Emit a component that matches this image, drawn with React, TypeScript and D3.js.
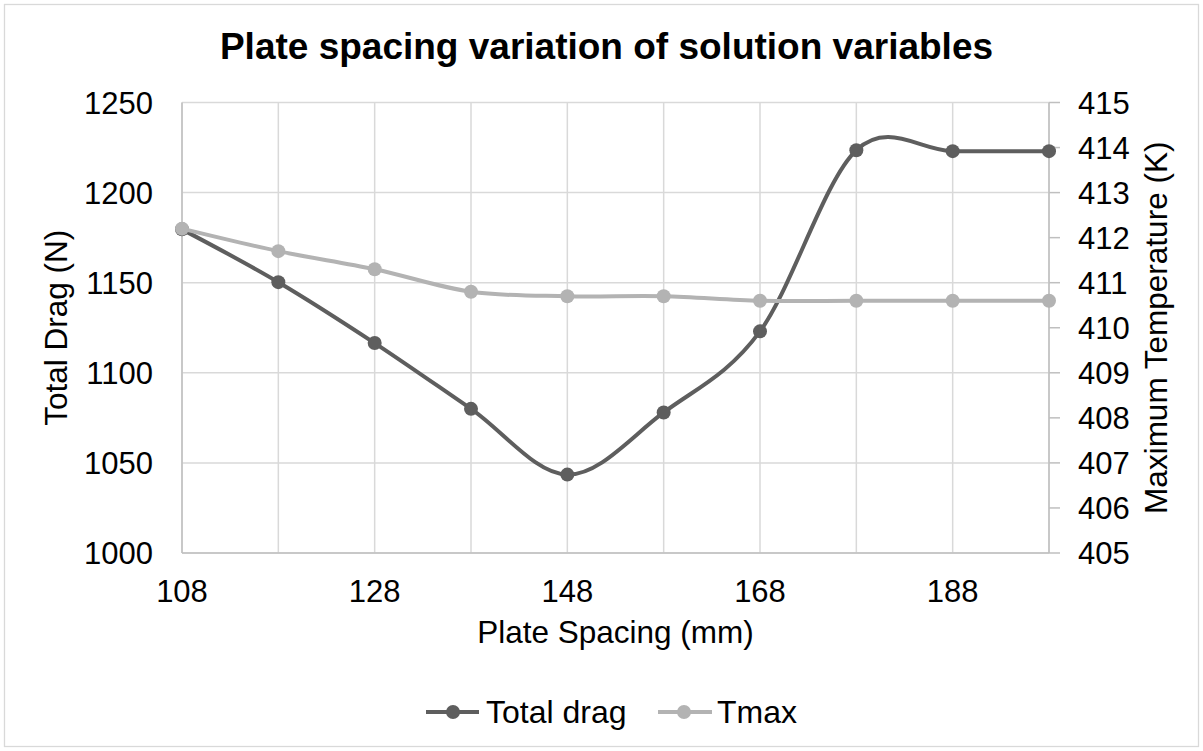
import React from "react";
import * as d3 from "d3";

const spacing = [108, 118, 128, 138, 148, 158, 168, 178, 188, 198];
const totalDrag = [1179.6, 1150.3, 1116.5, 1080, 1043.5, 1078, 1123, 1223.5, 1223, 1223];
const tmax = [412.2, 411.7, 411.3, 410.8, 410.7, 410.7, 410.6, 410.6, 410.6, 410.6];
const xTickLabels = [108, 128, 148, 168, 188];
const xGrid = [108, 118, 128, 138, 148, 158, 168, 178, 188, 198];
const leftTicks = [1000, 1050, 1100, 1150, 1200, 1250];
const rightTicks = [405, 406, 407, 408, 409, 410, 411, 412, 413, 414, 415];

const W = 1203;
const H = 751;
const FONT = "'Liberation Sans', Arial, sans-serif";
const DRAG_COLOR = "#5e5e5e";
const TMAX_COLOR = "#b3b3b3";

export default function App() {
  const x = d3.scaleLinear().domain([108, 198]).range([182, 1049]);
  const yL = d3.scaleLinear().domain([1000, 1250]).range([553, 102.5]);
  const yR = d3.scaleLinear().domain([405, 415]).range([553, 102.5]);

  const curve = d3.curveCardinal.tension(0);
  const dragLine = d3
    .line<number>()
    .x((_, i) => x(spacing[i]))
    .y((d) => yL(d))
    .curve(curve);
  const tmaxLine = d3
    .line<number>()
    .x((_, i) => x(spacing[i]))
    .y((d) => yR(d))
    .curve(curve);

  const [x0, x1] = x.range();
  const [yB, yT] = yL.range();
  const cx = (x0 + x1) / 2;
  const cy = (yB + yT) / 2;

  return (
    <svg
      width={W}
      height={H}
      style={{ position: "absolute", left: 0, top: 0, background: "#fff" }}
      fontFamily={FONT}
    >
      <rect x={0} y={0} width={W} height={H} fill="#fff" />
      <rect x={4.5} y={4.5} width={1194} height={742} fill="none" stroke="#d9d9d9" strokeWidth={1.3} />

      <text x={606.5} y={59} textAnchor="middle" fontSize={37} fontWeight="bold" fill="#000">
        Plate spacing variation of solution variables
      </text>

      {/* gridlines */}
      {xGrid.map((v) => (
        <line key={"gx" + v} x1={x(v)} x2={x(v)} y1={yT} y2={yB} stroke="#d9d9d9" strokeWidth={1.5} />
      ))}
      {leftTicks.map((v) => (
        <line key={"gy" + v} x1={x0} x2={x1} y1={yL(v)} y2={yL(v)} stroke="#d9d9d9" strokeWidth={1.5} />
      ))}

      {/* axes */}
      <line x1={x0} x2={x0} y1={yT} y2={yB} stroke="#bfbfbf" strokeWidth={1.5} />
      <line x1={x0} x2={x1} y1={yB} y2={yB} stroke="#bfbfbf" strokeWidth={1.5} />
      <line x1={x1} x2={x1} y1={yT} y2={yB} stroke="#bfbfbf" strokeWidth={1.5} />
      {rightTicks.map((v) => (
        <line key={"rt" + v} x1={x1} x2={x1 + 11} y1={yR(v)} y2={yR(v)} stroke="#bfbfbf" strokeWidth={1.5} />
      ))}

      {/* tick labels */}
      {leftTicks.map((v) => (
        <text key={"lt" + v} x={153} y={yL(v) + 11} textAnchor="end" fontSize={31} fill="#000">
          {v}
        </text>
      ))}
      {rightTicks.map((v) => (
        <text key={"rl" + v} x={1078} y={yR(v) + 11} textAnchor="start" fontSize={31} fill="#000">
          {v}
        </text>
      ))}
      {xTickLabels.map((v) => (
        <text key={"xt" + v} x={x(v)} y={602} textAnchor="middle" fontSize={31} fill="#000">
          {v}
        </text>
      ))}

      {/* axis titles */}
      <text x={cx} y={643} textAnchor="middle" fontSize={31.5} fill="#000">
        Plate Spacing (mm)
      </text>
      <text
        transform={`translate(67,${cy}) rotate(-90)`}
        textAnchor="middle"
        fontSize={31.5}
        fill="#000"
      >
        Total Drag (N)
      </text>
      <text
        transform={`translate(1166.5,${cy}) rotate(-90)`}
        textAnchor="middle"
        fontSize={31.5}
        fill="#000"
      >
        Maximum Temperature (K)
      </text>

      {/* series */}
      <path d={dragLine(totalDrag) || ""} fill="none" stroke={DRAG_COLOR} strokeWidth={4} strokeLinecap="round" />
      {totalDrag.map((d, i) => (
        <circle key={"dp" + i} cx={x(spacing[i])} cy={yL(d)} r={7} fill={DRAG_COLOR} />
      ))}
      <path d={tmaxLine(tmax) || ""} fill="none" stroke={TMAX_COLOR} strokeWidth={4} strokeLinecap="round" />
      {tmax.map((d, i) => (
        <circle key={"tp" + i} cx={x(spacing[i])} cy={yR(d)} r={7} fill={TMAX_COLOR} />
      ))}

      {/* legend */}
      <line x1={426} x2={479} y1={712} y2={712} stroke={DRAG_COLOR} strokeWidth={4} />
      <circle cx={453} cy={712} r={7} fill={DRAG_COLOR} />
      <text x={486} y={723} fontSize={32} fill="#000">
        Total drag
      </text>
      <line x1={658} x2={712} y1={712} y2={712} stroke={TMAX_COLOR} strokeWidth={4} />
      <circle cx={684} cy={712} r={7} fill={TMAX_COLOR} />
      <text x={717} y={723} fontSize={32} fill="#000">
        Tmax
      </text>
    </svg>
  );
}
